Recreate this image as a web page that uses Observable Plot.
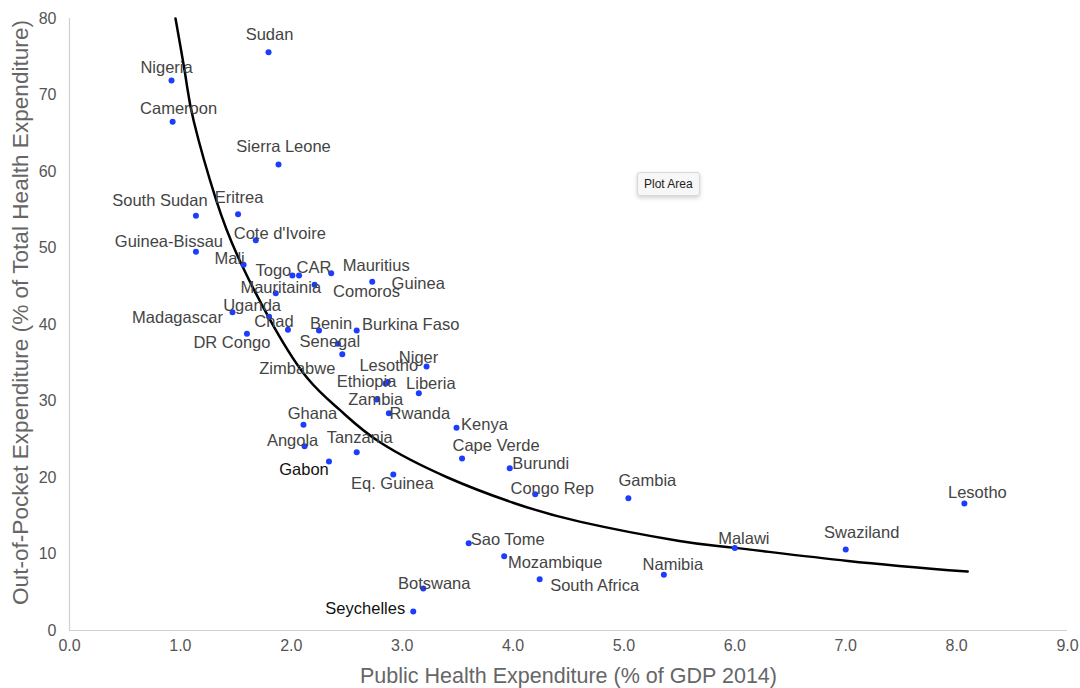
<!DOCTYPE html>
<html>
<head>
<meta charset="utf-8">
<script src="https://cdn.jsdelivr.net/npm/d3@7"></script>
<script src="https://cdn.jsdelivr.net/npm/@observablehq/plot@0.6"></script>
<style>
  html, body { margin: 0; padding: 0; background: #fff; }
  #wrap { position: relative; width: 1080px; height: 688px; }
  #tip { position: absolute; left: 637px; top: 172px; padding: 4px 6px; font: 12px "Liberation Sans", Arial, sans-serif; color: #222; background: #f7f7f7; border: 1px solid #d8d8d8; border-radius: 3px; box-shadow: 0 2px 4px rgba(0,0,0,0.18); }
</style>
</head>
<body>
<div id="wrap"><div id="tip">Plot Area</div></div>
<script>
// ---- data ----
const countries = ["Sudan","Nigeria","Cameroon","Sierra Leone","South Sudan","Eritrea","Cote d'Ivoire","Guinea-Bissau","Mali","Togo","CAR","Mauritius","Comoros","Guinea","Mauritainia","Madagascar","Uganda","Chad","DR Congo","Benin","Burkina Faso","Senegal","Zimbabwe","Lesotho","Niger","Ethiopia","Liberia","Zambia","Rwanda","Ghana","Kenya","Angola","Tanzania","Cape Verde","Gabon","Burundi","Eq. Guinea","Congo Rep","Gambia","Lesotho","Sao Tome","Malawi","Swaziland","Mozambique","Namibia","Botswana","South Africa","Seychelles"];
const publicExp = [1.795,0.92,0.93,1.885,1.14,1.52,1.68,1.14,1.57,2.01,2.07,2.36,2.21,2.73,1.86,1.47,1.80,1.97,1.60,2.25,2.59,2.42,2.46,2.87,3.22,2.85,3.15,2.77,2.88,2.11,3.49,2.12,2.59,3.54,2.34,3.97,2.92,4.20,5.04,8.07,3.60,6.00,7.00,3.92,5.36,3.19,4.24,3.10];
const outOfPocket = [75.6,71.9,66.5,60.9,54.2,54.4,51.0,49.5,47.8,46.4,46.4,46.7,45.2,45.6,44.1,41.6,41.0,39.3,38.8,39.2,39.2,37.5,36.1,32.5,34.5,32.3,31.0,30.2,28.4,26.9,26.5,24.1,23.3,22.5,22.1,21.2,20.4,17.8,17.3,16.6,11.4,10.8,10.6,9.7,7.3,5.5,6.7,2.5];
const trendX = [0.956,1.05,1.12,1.32,1.54,1.84,2.15,2.44,2.80,3.41,4.0,4.61,5.5,6.0,7.02,8.1];
const trendY = [80,72.1,66.6,56.4,48.2,39.8,32.9,28.8,24.6,20.0,16.7,14.2,11.7,10.8,9.1,7.7];
const xTicks = [0,1,2,3,4,5,6,7,8,9];
const yTicks = [0,10,20,30,40,50,60,70,80];
const xTitle = "Public Health Expenditure (% of GDP 2014)";
const yTitle = "Out-of-Pocket Expenditure (% of Total Health Expenditure)";

// ---- label placement (pixel nudges of each label from its dot) ----
const labelNudge = [[1,-17],[-5,-13],[6,-13],[5,-18],[-36,-15],[1,-17],[24,-7],[-27,-10],[-14,-6],[-19,-5],[15,-8],[45,-8],[52,7],[46,2],[5,-5],[-55,5],[-17,-11],[-14,-8],[-15,9],[12,-7],[54,-6],[-8,-2],[-45,14],[1,-16],[-8,-9],[-19,-2],[12,-10],[-1,0],[31,0],[9,-11],[28,-3],[-12,-5],[3,-15],[34,-13],[-25,8],[31,-5],[-1,9],[17,-6],[19,-17],[13,-11],[39,-4],[9,-9],[16,-17],[51,6],[9,-10],[11,-5],[55,6],[-48,-3]];
const darkLabels = new Set(["Gabon","Seychelles"]);

const W = 1080, H = 688, mL = 69, mR = 13, mT = 18, mB = 58;
const kx = 9 / (W - mL - mR), ky = 80 / (H - mT - mB);

const points = countries.map((c, i) => ({
  name: c, x: publicExp[i], y: outOfPocket[i],
  lx: publicExp[i] + labelNudge[i][0] * kx,
  ly: outOfPocket[i] - labelNudge[i][1] * ky,
  dark: darkLabels.has(c)
}));
const trend = trendX.map((x, i) => ({x, y: trendY[i]}));

const sans = "'Liberation Sans', Helvetica, Arial, sans-serif";

const chart = Plot.plot({
  width: W, height: H,
  marginLeft: mL, marginRight: mR, marginTop: mT, marginBottom: mB,
  style: {fontFamily: sans, background: "#fff"},
  x: {domain: [0, 9]},
  y: {domain: [0, 80]},
  marks: [
    Plot.ruleX([0], {stroke: "#d0d0d0", strokeWidth: 1.2}),
    Plot.ruleY([0], {stroke: "#d0d0d0", strokeWidth: 1.2}),
    Plot.axisX(xTicks, {tickSize: 0, tickPadding: 9, tickFormat: d => d.toFixed(1), label: null, fontSize: 16, color: "#555"}),
    Plot.axisY(yTicks, {tickSize: 0, tickPadding: 13, label: null, fontSize: 16, color: "#555"}),
    Plot.line(trend, {x: "x", y: "y", curve: "natural", stroke: "#000", strokeWidth: 2.5}),
    Plot.dot(points, {x: "x", y: "y", r: 3, fill: "#1c3cff"}),
    Plot.text(points, {x: "lx", y: "ly", text: "name", fontSize: 16.5, fill: d => d.dark ? "#111" : "#444"}),
    Plot.text([xTitle], {frameAnchor: "bottom", dy: 52, fontSize: 22.5, fill: "#666", className: "xtitle"}),
    Plot.text([yTitle], {frameAnchor: "left", textAnchor: "middle", rotate: -90, dx: -49, dy: -12, fontSize: 22.5, fill: "#666", className: "ytitle"})
  ]
});
// fit the axis titles to the reference's lengths
chart.querySelectorAll(".xtitle text").forEach(t => { t.setAttribute("textLength", 417); t.setAttribute("lengthAdjust", "spacingAndGlyphs"); });
chart.querySelectorAll(".ytitle text").forEach(t => { t.setAttribute("textLength", 585); t.setAttribute("lengthAdjust", "spacingAndGlyphs"); });
document.getElementById("wrap").prepend(chart);
</script>
</body>
</html>
